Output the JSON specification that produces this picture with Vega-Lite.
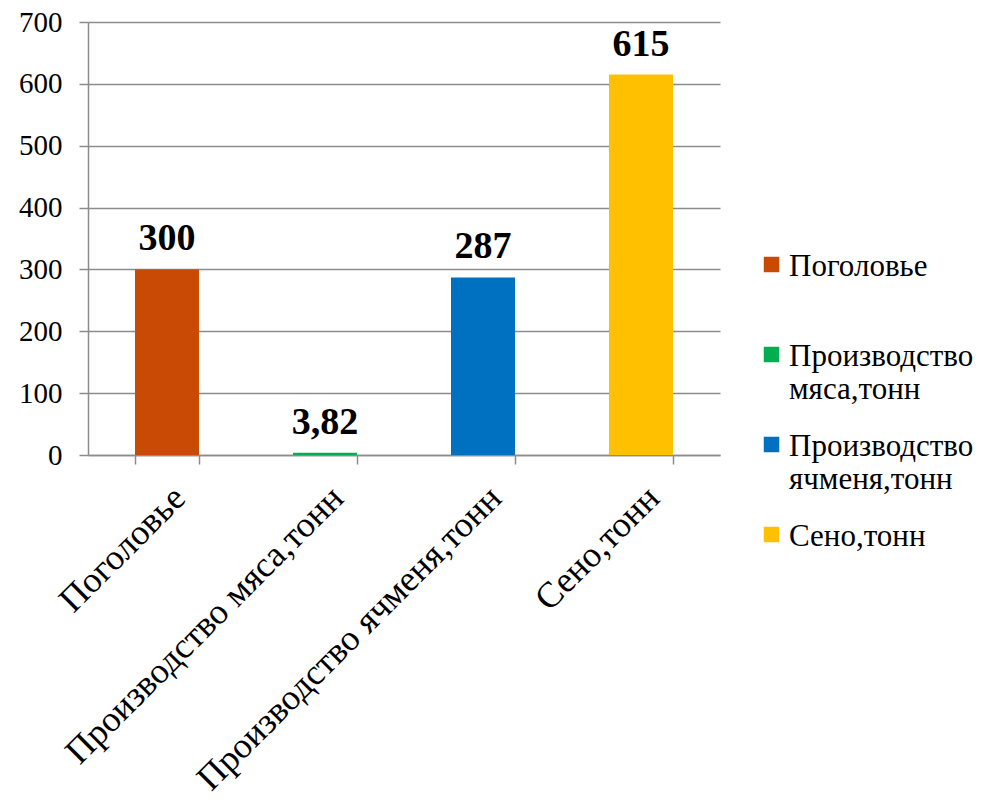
{
  "$schema": "https://vega.github.io/schema/vega-lite/v6.json",
  "width": 632,
  "height": 433,
  "autosize": {"type": "none"},
  "padding": {"left": 88, "top": 22, "right": 261, "bottom": 348},
  "background": "white",
  "config": {
    "font": "Liberation Serif",
    "view": {"stroke": null}
  },
  "data": {
    "values": [
      {"category": "Поголовье", "value": 300, "label": "300", "legend": "Поголовье"},
      {"category": "Производство мяса,тонн", "value": 3.82, "label": "3,82", "legend": "Производство мяса,тонн"},
      {"category": "Производство ячменя,тонн", "value": 287, "label": "287", "legend": "Производство ячменя,тонн"},
      {"category": "Сено,тонн", "value": 615, "label": "615", "legend": "Сено,тонн"}
    ]
  },
  "encoding": {
    "x": {
      "field": "category",
      "type": "nominal",
      "sort": null,
      "scale": {"paddingInner": 0.595, "paddingOuter": 0.2975},
      "axis": {
        "title": null,
        "tickBand": "extent",
        "labelAngle": -45,
        "labelAlign": "right",
        "labelBaseline": "top",
        "labelFont": "Liberation Serif",
        "labelFontSize": 36,
        "labelColor": "#000000",
        "labelPadding": 16,
        "labelLimit": 0,
        "domainColor": "#8c8c8c",
        "domainWidth": 1.5,
        "tickColor": "#8c8c8c",
        "tickSize": 9,
        "tickWidth": 1.5,
        "grid": false
      }
    },
    "y": {
      "field": "value",
      "type": "quantitative",
      "scale": {"domain": [0, 700]},
      "axis": {
        "title": null,
        "values": [0, 100, 200, 300, 400, 500, 600, 700],
        "labelFont": "Liberation Serif",
        "labelFontSize": 29,
        "labelColor": "#000000",
        "labelPadding": 17,
        "domainColor": "#8c8c8c",
        "domainWidth": 1.5,
        "tickColor": "#8c8c8c",
        "tickSize": 9,
        "tickWidth": 1.5,
        "gridColor": "#8c8c8c",
        "gridWidth": 1.5
      }
    }
  },
  "layer": [
    {
      "mark": {"type": "bar"},
      "encoding": {
        "color": {
          "field": "legend",
          "type": "nominal",
          "sort": null,
          "scale": {
            "domain": ["Поголовье", "Производство мяса,тонн", "Производство ячменя,тонн", "Сено,тонн"],
            "range": ["#C94A05", "#00B050", "#0070C0", "#FFC000"]
          },
          "legend": {
            "title": null,
            "orient": "none",
            "legendX": 668,
            "legendY": 227,
            "symbolType": "square",
            "symbolSize": 240,
            "symbolStrokeWidth": 0,
            "labelFont": "Liberation Serif",
            "labelFontSize": 31,
            "labelColor": "#000000",
            "labelLimit": 0,
            "labelOffset": 2,
            "labelBaseline": "alphabetic",
            "rowPadding": 24,
            "labelExpr": "datum.label == 'Поголовье' ? ['Поголовье', ' '] : datum.label == 'Производство мяса,тонн' ? ['Производство', 'мяса,тонн'] : datum.label == 'Производство ячменя,тонн' ? ['Производство', 'ячменя,тонн'] : ['Сено,тонн']",
            "encode": {"labels": {"update": {"dy": {"value": 11}}}}
          }
        }
      }
    },
    {
      "mark": {"type": "text", "font": "Liberation Serif", "fontSize": 38, "fontWeight": "bold", "baseline": "alphabetic", "dy": -19, "color": "#000000"},
      "encoding": {"text": {"field": "label"}}
    }
  ]
}
